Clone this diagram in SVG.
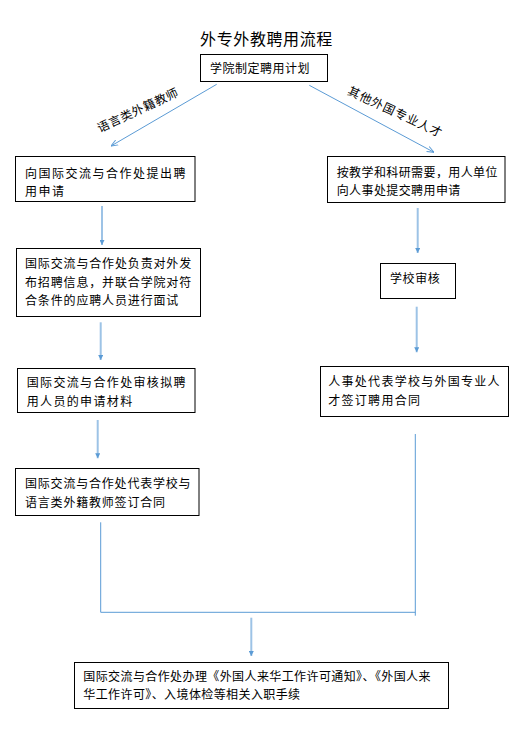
<svg xmlns="http://www.w3.org/2000/svg" width="524" height="733" viewBox="0 0 524 733">
<style>
  text { font-family: "Noto Sans CJK SC", "Noto Sans", sans-serif; font-size: 12px; fill: #000; }
  .title { font-size: 16px; }
  .box { fill: #fff; stroke: #000; stroke-width: 1; }
  .varrow { stroke: #9DC3E6; stroke-width: 2; fill: none; }
  .thin { stroke: #5B9BD5; stroke-width: 1; fill: none; }
</style>
<defs>
  <marker id="ah" viewBox="0 0 10 10" refX="10" refY="5" markerUnits="userSpaceOnUse" markerWidth="5" markerHeight="5" orient="auto">
    <path d="M0,0 L10,5 L0,10 z" fill="#5B9BD5"/>
  </marker>
  <marker id="ah2" viewBox="0 0 10 10" refX="10" refY="5" markerUnits="userSpaceOnUse" markerWidth="7" markerHeight="7" orient="auto">
    <path d="M0,1 L10,5 L0,9" fill="none" stroke="#5B9BD5" stroke-width="1.4"/>
  </marker>
</defs>
<rect width="524" height="733" fill="#fff"/>
<text class="title" x="266.5" y="45" text-anchor="middle" letter-spacing="0.6">外专外教聘用流程</text>

<g id="connectors">
  <line class="thin" x1="216.7" y1="84.3" x2="111" y2="146" marker-end="url(#ah2)"/>
  <line class="thin" x1="309.3" y1="85.3" x2="434" y2="152.3" marker-end="url(#ah2)"/>
  <line class="varrow" x1="102" y1="206" x2="102" y2="245" marker-end="url(#ah)"/>
  <line class="varrow" x1="417.7" y1="208" x2="417.7" y2="253" marker-end="url(#ah)"/>
  <line class="varrow" x1="100.7" y1="322.3" x2="100.7" y2="360" marker-end="url(#ah)"/>
  <line class="varrow" x1="416.7" y1="306.7" x2="416.7" y2="352.3" marker-end="url(#ah)"/>
  <line class="varrow" x1="97.7" y1="420" x2="97.7" y2="458.3" marker-end="url(#ah)"/>
  <polyline class="thin" points="100.7,522.3 100.7,612.3 415.3,612.3"/>
  <line class="thin" x1="415.3" y1="434" x2="415.3" y2="615.7"/>
  <line class="varrow" x1="251.3" y1="617.7" x2="251.3" y2="656" marker-end="url(#ah)"/>
  <text x="137.5" y="109" text-anchor="middle" dominant-baseline="central" letter-spacing="0.6" transform="rotate(-25 137.5 109)">语言类外籍教师</text>
  <text x="395.8" y="110.8" text-anchor="middle" dominant-baseline="central" letter-spacing="0.9" transform="rotate(25 395.8 110.8)">其他外国专业人才</text>
</g>

<g id="n-plan">
  <rect class="box" x="200.5" y="54.5" width="127" height="27"/>
  <text x="210" y="73" letter-spacing="0.5">学院制定聘用计划</text>
</g>
<g id="n-l1">
  <rect class="box" x="15.5" y="156.5" width="179.5" height="45"/>
  <text x="25" y="178" letter-spacing="1.5">向国际交流与合作处提出聘</text>
  <text x="25" y="195.5" letter-spacing="1.5">用申请</text>
</g>
<g id="n-r1">
  <rect class="box" x="327.5" y="156.5" width="177.5" height="46"/>
  <text x="336.7" y="177" letter-spacing="0.4">按教学和科研需要，用人单位</text>
  <text x="336.7" y="195" letter-spacing="0.4">向人事处提交聘用申请</text>
</g>
<g id="n-l2">
  <rect class="box" x="16.5" y="248.5" width="184" height="68"/>
  <text x="25" y="267.5" letter-spacing="0.85">国际交流与合作处负责对外发</text>
  <text x="25" y="286.5" letter-spacing="0.85">布招聘信息，并联合学院对符</text>
  <text x="25" y="305" letter-spacing="0.85">合条件的应聘人员进行面试</text>
</g>
<g id="n-audit">
  <rect class="box" x="380.5" y="263.5" width="75" height="35"/>
  <text x="390" y="282.5" letter-spacing="0.6">学校审核</text>
</g>
<g id="n-l3">
  <rect class="box" x="17.5" y="368.5" width="177.5" height="44"/>
  <text x="26.7" y="387" letter-spacing="1.35">国际交流与合作处审核拟聘</text>
  <text x="26.7" y="405.7" letter-spacing="1.35">用人员的申请材料</text>
</g>
<g id="n-r3">
  <rect class="box" x="320.5" y="366.5" width="188" height="50"/>
  <text x="328.3" y="386" letter-spacing="1.27">人事处代表学校与外国专业人</text>
  <text x="328.3" y="404.7" letter-spacing="1.27">才签订聘用合同</text>
</g>
<g id="n-l4">
  <rect class="box" x="15.5" y="468.5" width="183.5" height="47"/>
  <text x="25" y="487.5" letter-spacing="0.8">国际交流与合作处代表学校与</text>
  <text x="25" y="506.5" letter-spacing="0.8">语言类外籍教师签订合同</text>
</g>
<g id="n-final">
  <rect class="box" x="74.5" y="662.5" width="374" height="46"/>
  <text x="83.3" y="681" letter-spacing="0.4">国际交流与合作处办理《外国人来华工作许可通知》、《外国人来</text>
  <text x="83.3" y="698.7" letter-spacing="0.4">华工作许可》、入境体检等相关入职手续</text>
</g>
</svg>
